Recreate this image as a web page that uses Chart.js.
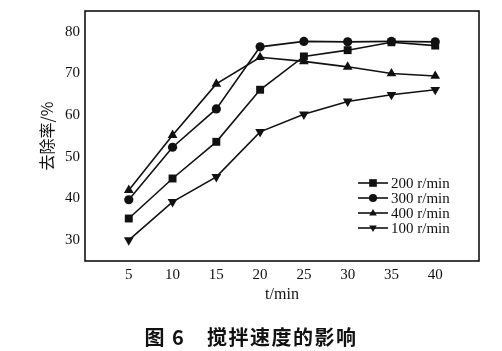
<!DOCTYPE html>
<html>
<head>
<meta charset="utf-8">
<script src="https://cdn.jsdelivr.net/npm/chart.js@4/dist/chart.umd.min.js"></script>
<style>
  html, body { margin: 0; padding: 0; background: #fff; }
  #wrap { position: relative; width: 502px; height: 351px; }
  #caption {
    position: absolute; left: 0; width: 502px; top: 322px;
    text-align: center; font: bold 20px "Noto Sans CJK SC", sans-serif; color: #111;
    letter-spacing: 1.5px;
  }
</style>
</head>
<body>
<div id="wrap">
  <canvas id="c" width="502" height="351"></canvas>
  <div id="caption">图 6　搅拌速度的影响</div>
</div>
<script>
// ── data ────────────────────────────────────────────────────────────────────
var times   = [5, 10, 15, 20, 25, 30, 35, 40];
var labels  = ['200 r/min', '300 r/min', '400 r/min', '100 r/min'];
var rpm200  = [35.2, 44.8, 53.6, 66.1, 74.1, 75.6, 77.5, 76.7];
var rpm300  = [39.7, 52.3, 61.5, 76.4, 77.7, 77.6, 77.7, 77.6];
var rpm400  = [42.0, 55.2, 67.5, 73.9, 72.9, 71.6, 70.0, 69.4];
var rpm100  = [30.0, 39.2, 45.2, 56.0, 60.2, 63.3, 64.9, 66.1];
var xTicks  = [5, 10, 15, 20, 25, 30, 35, 40];
var yTicks  = [30, 40, 50, 60, 70, 80];

var INK = '#111';
var SERIF = '"Liberation Serif", "Times New Roman", serif';

function pts(vals) {
    return vals.map(function (v, i) { return { x: times[i], y: v }; });
}

var styles = [
    { pointStyle: 'rect',     rotation: 0,   radius: 5.6 },
    { pointStyle: 'circle',   rotation: 0,   radius: 4.6 },
    { pointStyle: 'triangle', rotation: 0,   radius: 5.6 },
    { pointStyle: 'triangle', rotation: 180, radius: 5.6 }
];

var datasets = [rpm200, rpm300, rpm400, rpm100].map(function (vals, i) {
    return {
        label: labels[i],
        data: pts(vals),
        borderColor: INK,
        backgroundColor: INK,
        borderWidth: 1.6,
        pointStyle: styles[i].pointStyle,
        pointRotation: styles[i].rotation,
        pointRadius: styles[i].radius,
        pointBorderWidth: 0,
        tension: 0
    };
});

// frame around the plot area
var framePlugin = {
    id: 'frame',
    afterDraw: function (chart) {
        var a = chart.chartArea, ctx = chart.ctx;
        ctx.save();
        ctx.strokeStyle = INK;
        ctx.lineWidth = 1.6;
        ctx.strokeRect(a.left, a.top, a.right - a.left, a.bottom - a.top);
        ctx.restore();
    }
};

// legend inside the plot: short line with the marker through it
function marker(ctx, style, x, y) {
    var r = style.radius;
    ctx.beginPath();
    if (style.pointStyle === 'rect') {
        ctx.rect(x - r * 0.85, y - r * 0.85, r * 1.7, r * 1.7);
    } else if (style.pointStyle === 'circle') {
        ctx.arc(x, y, r * 0.9, 0, Math.PI * 2);
    } else {
        var d = style.rotation ? -1 : 1;
        ctx.moveTo(x, y - d * r * 0.9);
        ctx.lineTo(x - r * 0.85, y + d * r * 0.55);
        ctx.lineTo(x + r * 0.85, y + d * r * 0.55);
        ctx.closePath();
    }
    ctx.fill();
}

var legendPlugin = {
    id: 'insideLegend',
    afterDraw: function (chart) {
        var a = chart.chartArea, ctx = chart.ctx;
        var x0 = a.right - 121, y0 = a.bottom - 78;
        ctx.save();
        ctx.fillStyle = INK;
        ctx.strokeStyle = INK;
        ctx.lineWidth = 1.6;
        ctx.font = '15px ' + SERIF;
        ctx.textBaseline = 'middle';
        labels.forEach(function (lab, i) {
            var y = y0 + i * 15;
            ctx.beginPath();
            ctx.moveTo(x0, y);
            ctx.lineTo(x0 + 30, y);
            ctx.stroke();
            marker(ctx, { pointStyle: styles[i].pointStyle, rotation: styles[i].rotation, radius: 4.5 }, x0 + 15, y);
            ctx.fillText(lab, x0 + 33, y + 1);
        });
        ctx.restore();
    }
};

function keep(list) {
    return function (scale) {
        scale.ticks = scale.ticks.filter(function (t) { return list.indexOf(t.value) !== -1; });
    };
}

new Chart(document.getElementById('c').getContext('2d'), {
    type: 'line',
    data: { datasets: datasets },
    plugins: [framePlugin, legendPlugin],
    options: {
        responsive: false,
        animation: false,
        layout: { padding: { top: 11, right: 23, left: 0, bottom: 0 } },
        plugins: { legend: { display: false }, tooltip: { enabled: false } },
        scales: {
            x: {
                type: 'linear',
                min: 0, max: 45,
                afterBuildTicks: keep(xTicks),
                afterFit: function (s) { s.height = 90; s.paddingLeft = 0; s.paddingRight = 0; },
                grid: { display: false, drawTicks: false },
                border: { display: false },
                ticks: { stepSize: 5, padding: 5, color: INK, font: { family: SERIF, size: 15 }, maxRotation: 0, autoSkip: false },
                title: {
                    display: true, text: 't/min', color: INK,
                    font: { family: SERIF, size: 16 },
                    padding: { top: 47, bottom: 47 }
                }
            },
            y: {
                min: 25, max: 85,
                afterBuildTicks: keep(yTicks),
                afterFit: function (s) { s.width = 85; s.paddingTop = 0; s.paddingBottom = 0; },
                grid: { display: false, drawTicks: false },
                border: { display: false },
                ticks: { stepSize: 5, padding: 5, color: INK, font: { family: SERIF, size: 15 } },
                title: {
                    display: true, text: '去除率/%', color: INK,
                    font: { family: '"Noto Sans CJK SC", sans-serif', size: 16 },
                    padding: { top: 37, bottom: 37 }
                }
            }
        }
    }
});
</script>
</body>
</html>
